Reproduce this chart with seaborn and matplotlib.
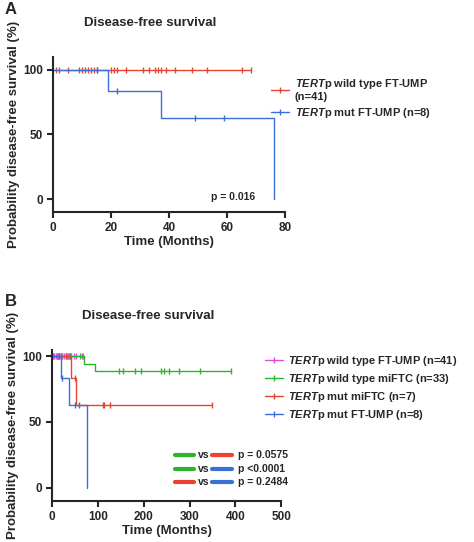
import matplotlib
matplotlib.use("Agg")
import matplotlib.pyplot as plt
import seaborn as sns
import pandas as pd
from matplotlib.lines import Line2D

sns.set_style("ticks")
plt.rcParams['font.family'] = ['Liberation Sans', 'DejaVu Sans']
plt.rcParams['font.weight'] = 'bold'
plt.rcParams['mathtext.fontset'] = 'custom'
plt.rcParams['mathtext.bfit'] = 'Liberation Sans:italic:bold'
plt.rcParams['mathtext.it'] = 'Liberation Sans:italic:bold'

RED = '#e8432f'; BLUE = '#3a6fd8'; GREEN = '#2bb52b'; MAG = '#e04be0'

# Step curves (time, survival %)
wt_ft_t = [0, 68]; wt_ft_s = [100, 100]
wt_ft_cens_t = [1, 2, 5, 9, 10, 11, 12, 13, 14, 15, 20, 21, 22, 25, 31, 33, 35, 36, 37, 39, 42, 48, 53, 65, 68]
mut_ft_t = [0, 19, 37, 76, 76]; mut_ft_s = [100, 83.3, 62.5, 62.5, 0]
mut_ft_cens_t = [15, 22, 49, 59]; mut_ft_cens_s = [100, 83.3, 62.5, 62.5]

wt_mi_t = [0, 70, 93, 390]; wt_mi_s = [100, 94.2, 88.5, 88.5]
wt_mi_cens_t = [20, 40, 60, 147, 155, 180, 195, 238, 245, 255, 278, 322, 390]
wt_mi_cens_s = [100, 100, 100, 88.5, 88.5, 88.5, 88.5, 88.5, 88.5, 88.5, 88.5, 88.5, 88.5]
mut_mi_t = [0, 41, 52, 350]; mut_mi_s = [100, 83.3, 62.5, 62.5]
mut_mi_cens_t = [30, 50, 110, 113, 127, 350]; mut_mi_cens_s = [100, 83.3, 62.5, 62.5, 62.5, 62.5]

fig = plt.figure(figsize=(4.74, 5.42), dpi=100)
axA = fig.add_axes([0.112, 0.609, 0.49, 0.286])
axB = fig.add_axes([0.110, 0.076, 0.483, 0.279])

def curve(ax, t, s, ct, cs, color, label):
    df = pd.DataFrame({'t': t, 's': s})
    sns.lineplot(data=df, x='t', y='s', ax=ax, color=color, lw=1, drawstyle='steps-post',
                 estimator=None, sort=False, legend=False)
    cdf = pd.DataFrame({'t': ct, 's': cs})
    sns.scatterplot(data=cdf, x='t', y='s', ax=ax, color=color, marker='|', s=16,
                    linewidth=1, legend=False)
    return Line2D([], [], color=color, lw=1, marker='|', markersize=5, label=label)

T = r'$\mathit{TERT}$'
hA = [curve(axA, wt_ft_t, wt_ft_s, wt_ft_cens_t, [100]*len(wt_ft_cens_t), RED, T + 'p wild type FT-UMP\n(n=41)'),
      curve(axA, mut_ft_t, mut_ft_s, mut_ft_cens_t, mut_ft_cens_s, BLUE, T + 'p mut FT-UMP (n=8)')]
hB = [curve(axB, wt_ft_t, wt_ft_s, wt_ft_cens_t, [100]*len(wt_ft_cens_t), MAG, T + 'p wild type FT-UMP (n=41)'),
      curve(axB, wt_mi_t, wt_mi_s, wt_mi_cens_t, wt_mi_cens_s, GREEN, T + 'p wild type miFTC (n=33)'),
      curve(axB, mut_mi_t, mut_mi_s, mut_mi_cens_t, mut_mi_cens_s, RED, T + 'p mut miFTC (n=7)'),
      curve(axB, mut_ft_t, mut_ft_s, mut_ft_cens_t, mut_ft_cens_s, BLUE, T + 'p mut FT-UMP (n=8)')]

for ax, xmax, xt, ymax in [(axA, 80, [0, 20, 40, 60, 80], 110), (axB, 500, [0, 100, 200, 300, 400, 500], 105)]:
    ax.set_xlim(0, xmax); ax.set_ylim(-10, ymax)
    ax.set_xticks(xt); ax.set_yticks([0, 50, 100])
    sns.despine(ax=ax)
    for sp in ax.spines.values():
        sp.set_linewidth(1.5)
    ax.tick_params(width=1.5, length=4, labelsize=8.5)
    ax.set_xlabel('Time (Months)', fontsize=9.5, fontweight='bold', labelpad=1)
    ax.set_ylabel('Probability disease-free survival (%)', fontsize=9.5, fontweight='bold', labelpad=2)
    ax.set_title('Disease-free survival', fontsize=9.5, fontweight='bold', pad=22, x=0.42)

axA.legend(handles=hA, loc='upper left', bbox_to_anchor=(0.92, 0.9), frameon=False,
           fontsize=8, handlelength=1.6, handletextpad=0.5, labelspacing=0.3, borderaxespad=0)
axB.legend(handles=hB, loc='upper left', bbox_to_anchor=(0.91, 1.0), frameon=False,
           fontsize=8, handlelength=1.6, handletextpad=0.5, labelspacing=0.35, borderaxespad=0)
axA.text(0.87, 0.08, 'p = 0.016', transform=axA.transAxes, fontsize=7.5, ha='right', fontweight='bold')

pairs = [(GREEN, RED, 'p = 0.0575'), (GREEN, BLUE, 'p <0.0001'), (RED, BLUE, 'p = 0.2484')]
for i, (c1, c2, ptxt) in enumerate(pairs):
    y = 0.30 - i * 0.087
    axB.add_line(Line2D([0.535, 0.62], [y, y], color=c1, lw=3, transform=axB.transAxes))
    axB.text(0.635, y, 'vs', transform=axB.transAxes, fontsize=7.5, va='center', fontweight='bold')
    axB.add_line(Line2D([0.70, 0.785], [y, y], color=c2, lw=3, transform=axB.transAxes))
    axB.text(0.81, y, ptxt, transform=axB.transAxes, fontsize=7.5, va='center', fontweight='bold')

fig.text(0.01, 0.975, 'A', fontsize=12, fontweight='bold')
fig.text(0.01, 0.435, 'B', fontsize=12, fontweight='bold')
fig.savefig('out.png', dpi=100)
